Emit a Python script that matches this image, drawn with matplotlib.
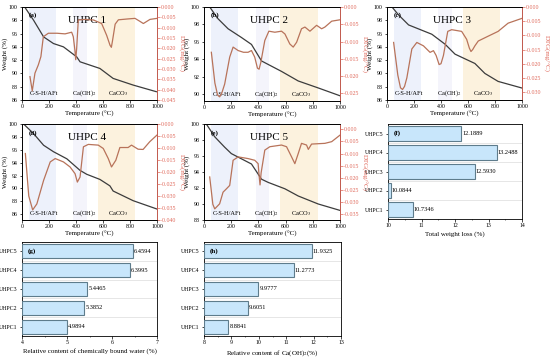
import matplotlib
matplotlib.use('Agg')
import matplotlib.pyplot as plt
from matplotlib.ticker import MultipleLocator

plt.rcParams['font.family'] = ['Liberation Serif', 'DejaVu Serif']
plt.rcParams['mathtext.fontset'] = 'stix'

# ---------------- TG / DTG data ----------------
w1_t = [20, 86, 160, 233, 307, 405, 430, 577, 675, 823, 995]
w1_w = [100, 98, 95.5, 94.5, 94, 92.5, 91.75, 90.75, 89.25, 88.25, 87.25]
d1_t = [59, 76, 96, 121, 140, 158, 195, 260, 319, 368, 380, 392, 398, 405, 417, 467, 530, 590,
        627, 652, 662, 670, 690, 714, 780, 837, 870, 899, 948, 1000]
d1_v = [-0.0337, -0.0406, -0.032, -0.028, -0.024, -0.0144, -0.0127, -0.0127, -0.013, -0.0122, -0.0144,
        -0.021, -0.0255, -0.020, -0.0063, -0.0060, -0.0063, -0.008, -0.0137, -0.0185, -0.0195, -0.0165,
        -0.0083, -0.0062, -0.0058, -0.0055, -0.0068, -0.0080, -0.0060, -0.0055]

w2_t = [42, 103, 177, 275, 349, 423, 570, 693, 840, 1000]
w2_w = [100, 98.65, 97.5, 96.5, 95.7, 93.8, 92.6, 91.5, 90.7, 89.8]
d2_t = [54, 80, 100, 115, 130, 152, 189, 214, 251, 290, 324, 349, 373, 393, 405, 418, 447, 477, 521,
        570, 595, 631, 656, 681, 717, 742, 779, 828, 865, 889, 939, 1000]
d2_v = [-0.0131, -0.022, -0.0255, -0.026, -0.0250, -0.0223, -0.0145, -0.0116, -0.0126, -0.0131, -0.0131,
        -0.0126, -0.0145, -0.0177, -0.0180, -0.016, -0.0097, -0.007, -0.0073, -0.007, -0.0078, -0.0107,
        -0.0116, -0.0102, -0.0063, -0.0058, -0.007, -0.0053, -0.0063, -0.0058, -0.0041, -0.0037]

w3_t = [37, 86, 160, 332, 430, 504, 651, 725, 823, 1000]
w3_w = [100, 98.8, 97.3, 95.9, 94.4, 92.9, 91.5, 90, 88.8, 87.8]
d3_t = [49, 80, 100, 115, 130, 147, 184, 221, 270, 319, 344, 364, 386, 400, 418, 450, 479, 553,
        590, 610, 622, 635, 651, 676, 749, 823, 897, 1000]
d3_v = [-0.0125, -0.024, -0.0285, -0.0291, -0.028, -0.025, -0.0148, -0.0125, -0.0137, -0.016, -0.0154,
        -0.0171, -0.0203, -0.0200, -0.0171, -0.0086, -0.008, -0.0086, -0.0114, -0.0145, -0.0157, -0.0150,
        -0.0137, -0.012, -0.0103, -0.0086, -0.0057, -0.004]

w4_t = [12, 86, 160, 233, 332, 430, 479, 577, 651, 675, 823, 1000]
w4_w = [100, 98.5, 96.7, 95.7, 94.6, 92.8, 92.2, 91.4, 90.4, 89.6, 88.1, 86.8]
d4_t = [25, 50, 79, 110, 160, 209, 246, 307, 356, 393, 410, 430, 455, 491, 565, 602, 639, 663, 695,
        725, 786, 811, 860, 897, 946, 1000]
d4_v = [-0.0123, -0.030, -0.0358, -0.0333, -0.0235, -0.0158, -0.0144, -0.0158, -0.0179, -0.0207,
        -0.0242, -0.0221, -0.0095, -0.0085, -0.0088, -0.0102, -0.0144, -0.0179, -0.0151, -0.0098,
        -0.0098, -0.0088, -0.0105, -0.0106, -0.0074, -0.0046]

w5_t = [17, 79, 152, 201, 349, 423, 472, 595, 693, 840, 1000]
w5_w = [100, 98.4, 97.1, 96.3, 95.0, 93.1, 92.7, 91.9, 91.0, 90.0, 89.2]
d5_t = [42, 65, 79, 115, 140, 165, 189, 214, 251, 324, 373, 398, 405, 412, 420, 447, 484, 570, 607,
        644, 668, 693, 717, 754, 767, 791, 889, 939, 1000]
d5_v = [-0.0197, -0.031, -0.0329, -0.0308, -0.026, -0.0246, -0.0232, -0.0128, -0.0114, -0.0121,
        -0.0128, -0.0142, -0.019, -0.0230, -0.018, -0.0086, -0.0072, -0.0065, -0.0072, -0.0114,
        -0.0142, -0.010, -0.0058, -0.0065, -0.0083, -0.0061, -0.0058, -0.0051, -0.0024]

# ---------------- bar chart data ----------------
samples = ['UHPC1', 'UHPC2', 'UHPC3', 'UHPC4', 'UHPC5']
total_loss = [10.7346, 10.0844, 12.5930, 13.2488, 12.1889]
bound_water = [4.9894, 5.3852, 5.4465, 6.3995, 6.4594]
caoh2 = [8.8841, 9.6051, 9.9777, 11.2773, 11.9325]

W, H = 550, 358
fig = plt.figure(figsize=(5.5, 3.58), dpi=100)

wcol = '#3c3c3c'
dcol = '#b8735a'
rcol = '#e0685a'
fs_tick = 4.2
fs_lab = 5.0


def box(l, t, r, b):
    return [l / W, 1 - b / H, (r - l) / W, (b - t) / H]


def tg_panel(rect, tag, name, wt, ww, dt, dv, wlim, wticks, dlim, dticks):
    ax = fig.add_axes(box(*rect))
    ax.axvspan(50, 250, color='#edf1fb', lw=0, zorder=0)
    ax.axvspan(380, 480, color='#f4f4fb', lw=0, zorder=0)
    ax.axvspan(560, 840, color='#fcf2de', lw=0, zorder=0)
    ax.plot(wt, ww, color=wcol, lw=0.9, zorder=3)
    ax.set_xlim(0, 1000)
    ax.set_ylim(*wlim)
    ax.set_yticks(wticks)
    ax.set_xticks([0, 200, 400, 600, 800, 1000])
    ax.tick_params(labelsize=fs_tick, length=1.8, width=0.5, pad=1.2)
    ax.set_xlabel('Temperature (°C)', fontsize=fs_lab, labelpad=1.5)
    ax.set_ylabel('Weight (%)', fontsize=fs_lab, labelpad=1.0)
    for s in ax.spines.values():
        s.set_linewidth(0.6)
    ax.text(0.05, 0.91, tag, transform=ax.transAxes, fontsize=5, fontweight='bold', va='center')
    ax.text(0.48, 0.86, name, transform=ax.transAxes, fontsize=8, ha='center', va='center')
    ylab = wlim[0] + 0.07 * (wlim[1] - wlim[0])
    ax.text(165, ylab, 'C-S-H/AFt', fontsize=4.6, ha='center', va='center')
    ax.text(460, ylab, 'Ca(OH)$_2$', fontsize=4.6, ha='center', va='center')
    ax.text(710, ylab, 'CaCO$_3$', fontsize=4.6, ha='center', va='center')

    ax2 = ax.twinx()
    ax2.plot(dt, dv, color=dcol, lw=0.9)
    ax2.set_ylim(*dlim)
    ax2.set_yticks(dticks)
    ax2.yaxis.set_major_formatter(plt.FuncFormatter(lambda v, p: '%.3f' % v if abs(v) > 1e-9 else '0.000'))
    ax2.tick_params(labelsize=fs_tick, length=1.8, width=0.5, pad=1.2, colors=rcol)
    for s in ax2.spines.values():
        s.set_linewidth(0.6)
    ax2.spines['right'].set_color(rcol)
    ax2.set_ylabel('DTG(mg/°C)', fontsize=fs_lab, color=rcol, rotation=270, labelpad=5)


def bar_panel(rect, tag, vals, xlim, xlabel):
    ax = fig.add_axes(box(*rect))
    y = range(len(samples))
    ax.barh(y, [v - xlim[0] for v in vals], left=xlim[0], height=0.75,
            color='#c8e6fb', edgecolor='#5e7c8c', lw=0.8, zorder=3)
    for i, v in enumerate(vals):
        ax.text(v + 0.008 * (xlim[1] - xlim[0]), i, '%.4f' % v, fontsize=4.6, va='center', zorder=4)
    ax.set_xlim(*xlim)
    ax.set_ylim(-0.5, 4.5)
    ax.set_yticks(list(y))
    ax.set_yticklabels(samples)
    ax.set_yticks([i + 0.5 for i in range(-1, 5)], minor=True)
    ax.grid(which='minor', axis='y', color='#dcdcdc', lw=0.5, zorder=0)
    ax.tick_params(which='minor', axis='y', length=0)
    ax.xaxis.set_major_locator(MultipleLocator(1))
    ax.xaxis.set_minor_locator(MultipleLocator(0.5))
    ax.tick_params(labelsize=fs_tick, length=1.8, width=0.5, pad=1.2)
    ax.tick_params(which='minor', axis='x', length=1.0, width=0.4)
    ax.set_xlabel(xlabel, fontsize=fs_lab, labelpad=2)
    for s in ax.spines.values():
        s.set_linewidth(0.6)
    ax.text(0.04, 0.9, tag, transform=ax.transAxes, fontsize=5, fontweight='bold', va='center', zorder=5)


dt_a = [0, -0.005, -0.010, -0.015, -0.020, -0.025, -0.030, -0.035, -0.040, -0.045]
tg_panel((22, 7, 157, 100), '(a)', 'UHPC 1', w1_t, w1_w, d1_t, d1_v,
         (86, 100), range(86, 101, 2), (-0.045, 0), dt_a)
tg_panel((204, 7, 340, 101), '(b)', 'UHPC 2', w2_t, w2_w, d2_t, d2_v,
         (89.2, 100), range(90, 101, 2), (-0.0272, 0), dt_a[:6])
tg_panel((387, 7, 522, 100), '(c)', 'UHPC 3', w3_t, w3_w, d3_t, d3_v,
         (86, 100), range(86, 101, 2), (-0.0328, 0), dt_a[:7])
tg_panel((22, 124, 157, 220), '(d)', 'UHPC 4', w4_t, w4_w, d4_t, d4_v,
         (85.1, 100), range(86, 101, 2), (-0.040, 0), dt_a[:9])
tg_panel((204, 124, 340, 220), '(e)', 'UHPC 5', w5_t, w5_w, d5_t, d5_v,
         (88, 100), range(88, 101, 2), (-0.0375, 0.0022), dt_a[:8])

bar_panel((388, 124, 522, 219), '(f)', total_loss, (10, 14), 'Total weight loss (%)')
bar_panel((22, 242, 157, 336), '(g)', bound_water, (4, 7), 'Relative content of chemically bound water (%)')
bar_panel((204, 242, 341, 336), '(h)', caoh2, (8, 13), 'Relative content of Ca(OH)$_2$(%)')

fig.savefig('out.png', dpi=100)
